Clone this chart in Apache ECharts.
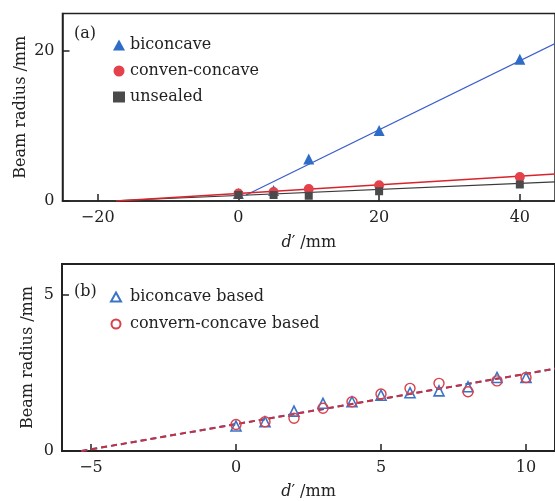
<!DOCTYPE html>
<html>
<head>
<meta charset="utf-8">
<script src="https://cdn.jsdelivr.net/npm/echarts@6/dist/echarts.min.js"></script>
<style>
  html, body { margin: 0; padding: 0; background: #fff; }
  #chart { width: 555px; height: 501px; }
</style>
</head>
<body>
<div id="chart"></div>
<script>
// ---- panel (a) ----
const aBiconcave = [[0, 1.0], [5, 1.4], [10, 5.6], [20, 9.4], [40, 18.9]];
const aConven = [[0, 1.0], [5, 1.2], [10, 1.6], [20, 2.1], [40, 3.2]];
const aUnsealed = [[0, 0.8], [5, 0.8], [10, 0.7], [20, 1.3], [40, 2.2]];
// fitted lines (end points)
const aBiconcaveFit = [[1.1, 0.8], [45, 21.0]];
const aConvenFit = [[-17.4, 0], [45, 3.6]];
const aUnsealedFit = [[-18.4, 0], [45, 2.55]];
const aXTicks = [-20, 0, 20, 40];
const aYTicks = [0, 20];

// ---- panel (b) ----
const bBiconcave = [[0, 0.80], [1, 0.94], [2, 1.28], [3, 1.53], [4, 1.58], [5, 1.79],
  [6, 1.87], [7, 1.93], [8, 2.06], [9, 2.36], [10, 2.36]];
const bConvern = [[0, 0.85], [1, 0.94], [2, 1.05], [3, 1.37], [4, 1.58], [5, 1.83],
  [6, 2.01], [7, 2.17], [8, 1.90], [9, 2.25], [10, 2.36]];
const bFit = [[-5.33, 0], [11, 2.64]];
const bXTicks = [-5, 0, 5, 10];
const bYTicks = [0, 5];

const FONT = "DejaVu Serif";
const minus = (v) => (v < 0 ? "\u2212" + Math.abs(v) : String(v));

const chart = echarts.init(document.getElementById("chart"));

const xAxisBase = (grid, min, max, ticks, lw, gap) => ({
  type: "value",
  gridIndex: grid,
  min: min,
  max: max,
  name: "{i|d}\u2032 /mm",
  nameLocation: "middle",
  nameGap: gap,
  nameTextStyle: {
    fontFamily: FONT, fontSize: 16, color: "#222",
    rich: { i: { fontFamily: FONT, fontStyle: "italic", fontSize: 16, color: "#222" } },
  },
  axisLine: { show: true, onZero: false, lineStyle: { color: "#222", width: lw } },
  axisTick: { show: true, inside: true, length: 7, customValues: ticks, lineStyle: { color: "#222", width: 1.5 } },
  axisLabel: { customValues: ticks, formatter: minus, fontFamily: FONT, fontSize: 16, color: "#222", margin: 9 },
  splitLine: { show: false },
});

const yAxisBase = (grid, max, ticks, gap, lw) => ({
  type: "value",
  gridIndex: grid,
  min: 0,
  max: max,
  name: "Beam radius /mm",
  nameLocation: "middle",
  nameGap: gap,
  nameMoveOverlap: false,
  nameTextStyle: { fontFamily: FONT, fontSize: 16, color: "#222" },
  axisLine: { show: true, onZero: false, lineStyle: { color: "#222", width: lw } },
  axisTick: { show: true, inside: true, length: 7, customValues: ticks, lineStyle: { color: "#222", width: 1.5 } },
  axisLabel: { customValues: ticks, fontFamily: FONT, fontSize: 16, color: "#222", margin: 8 },
  splitLine: { show: false },
});

const fitLine = (name, data, xi, color, width, dash) => ({
  name: name,
  type: "line",
  xAxisIndex: xi,
  yAxisIndex: xi,
  data: data,
  showSymbol: false,
  silent: true,
  z: 1,
  lineStyle: { color: color, width: width, type: dash || "solid" },
});

const option = {
  backgroundColor: "#fff",
  animation: false,
  grid: [
    { left: 62.5, top: 13.5, right: -6, height: 187.5, show: true, borderColor: "#222", borderWidth: 1.5 },
    { left: 62, top: 264, right: -3, height: 187, show: true, borderColor: "#222", borderWidth: 2 },
  ],
  xAxis: [
    xAxisBase(0, -25, 45, aXTicks, 1.5, 34),
    xAxisBase(1, -6, 11, bXTicks, 2, 33),
  ],
  yAxis: [
    yAxisBase(0, 25, aYTicks, 34, 1.5),
    yAxisBase(1, 6, bYTicks, 26, 2),
  ],
  legend: [
    {
      data: ["biconcave", "conven-concave", "unsealed"],
      orient: "vertical",
      left: 108,
      top: 31,
      itemWidth: 12,
      itemHeight: 11,
      itemGap: 8,
      textStyle: { fontFamily: FONT, fontSize: 16, color: "#222", lineHeight: 18 },
    },
    {
      data: ["biconcave based", "convern-concave based"],
      orient: "vertical",
      left: 105,
      top: 283,
      itemWidth: 10,
      itemHeight: 9,
      itemGap: 9,
      textStyle: { fontFamily: FONT, fontSize: 16, color: "#222", lineHeight: 18, padding: [0, 0, 0, 4] },
    },
  ],
  graphic: [
    { type: "text", left: 74, top: 26, style: { text: "(a)", font: "16px 'DejaVu Serif'", fill: "#222" } },
    { type: "text", left: 74, top: 284, style: { text: "(b)", font: "16px 'DejaVu Serif'", fill: "#222" } },
  ],
  series: [
    fitLine("fit-a-bi", aBiconcaveFit, 0, "#3b5ccc", 1.2),
    fitLine("fit-a-unsealed", aUnsealedFit, 0, "#3a3a3a", 1.2),
    fitLine("fit-a-conven", aConvenFit, 0, "#d8232c", 1.5),
    {
      name: "biconcave", type: "scatter", xAxisIndex: 0, yAxisIndex: 0,
      data: aBiconcave, symbol: "triangle", symbolSize: 11, z: 3,
      itemStyle: { color: "#2e6cc6", opacity: 1 },
    },
    {
      name: "conven-concave", type: "scatter", xAxisIndex: 0, yAxisIndex: 0,
      data: aConven, symbol: "circle", symbolSize: 10, z: 3,
      itemStyle: { color: "#e4414a", opacity: 1 },
    },
    {
      name: "unsealed", type: "scatter", xAxisIndex: 0, yAxisIndex: 0,
      data: aUnsealed, symbol: "rect", symbolSize: 8, z: 3,
      itemStyle: { color: "#4a4a4a", opacity: 1 },
    },
    fitLine("fit-b-bi", bFit, 1, "#3b6cc8", 2, [6, 4]),
    fitLine("fit-b-conv", bFit, 1, "#c8303f", 2, [6, 4]),
    {
      name: "biconcave based", type: "scatter", xAxisIndex: 1, yAxisIndex: 1,
      data: bBiconcave, symbol: "triangle", symbolSize: 10, z: 3,
      itemStyle: { color: "transparent", borderColor: "#3a74c6", borderWidth: 1.6, opacity: 1 },
    },
    {
      name: "convern-concave based", type: "scatter", xAxisIndex: 1, yAxisIndex: 1,
      data: bConvern, symbol: "circle", symbolSize: 10, z: 3,
      itemStyle: { color: "transparent", borderColor: "#d9404a", borderWidth: 1.4, opacity: 1 },
    },
  ],
};

chart.setOption(option);
</script>
</body>
</html>
